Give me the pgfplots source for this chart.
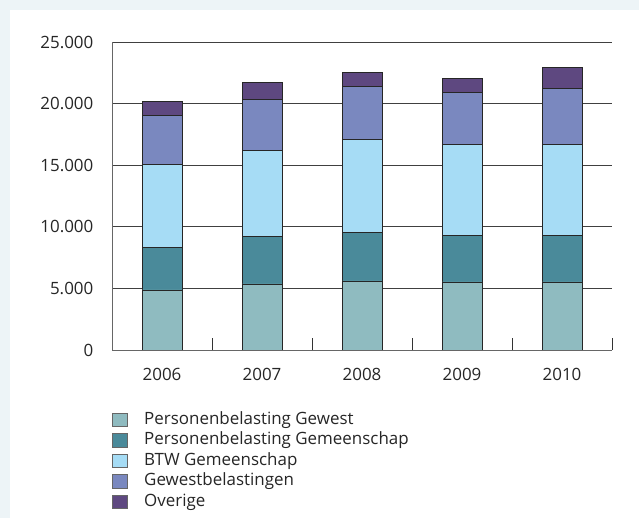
\documentclass[border=0pt]{standalone}
\usepackage{fontspec}
\setmainfont{Open Sans}
\usepackage{pgfplots}
\pgfplotsset{compat=1.18}
\definecolor{bgc}{HTML}{EDF4F7}
\definecolor{c1}{HTML}{8FBBC0}
\definecolor{c2}{HTML}{4A8A9A}
\definecolor{c3}{HTML}{A6DCF5}
\definecolor{c4}{HTML}{7A88BF}
\definecolor{c5}{HTML}{5E4880}
\pgfplotstableread{
x a b c d e
0 4876 3414 6746 3982 1167
1 5364 3820 6989 4146 1381
2 5608 3901 7558 4308 1138
3 5527 3787 7347 4275 1089
4 5527 3787 7347 4551 1707
}\data
\begin{document}
\begin{tikzpicture}[x=1bp,y=1bp]
\fill[bgc] (0,0) rectangle (639,518);
\fill[white] (10,0) rectangle (639,508);
\useasboundingbox (0,0) rectangle (639,518);
\begin{axis}[
  at={(112bp,168bp)}, anchor=south west,
  scale only axis, width=500bp, height=308bp,
  ybar stacked, bar width=40bp,
  xmin=-0.5, xmax=4.5, ymin=0, ymax=25000,
  scaled y ticks=false,
  axis x line*=bottom, axis y line*=left,
  axis line style={black!60, line width=0.9bp},
  xtick={0,1,2,3,4}, xticklabels={2006,2007,2008,2009,2010},
  minor xtick={0.5,1.5,2.5,3.5,4.5},
  major tick length=0pt, minor tick length=12bp,
  tick align=inside, xtick pos=bottom, ytick pos=left,
  minor tick style={black!80, line width=0.9bp},
  ytick={0,5000,10000,15000,20000,25000},
  yticklabels={0,5.000,10.000,15.000,20.000,25.000},
  ymajorgrids, grid style={black!75, line width=0.8bp},
  tick label style={font=\fontsize{17}{20}\selectfont, text=black!85},
  yticklabel style={inner sep=0pt, xshift=-18.5bp},
  xticklabel style={inner sep=0pt, yshift=-18bp},
  every axis plot/.append style={draw=black!85, line width=0.8bp},
  legend style={at={(0,-0.2013)}, anchor=north west, draw=none, fill=none,
    font=\fontsize{17}{20}\selectfont, row sep=4.5bp, column sep=0pt, inner sep=0pt,
    nodes={inner sep=0pt, text=black!85, text height=12bp, text depth=4bp}},
  legend cell align=left,
  legend image code/.code={\draw[#1,draw=black!60,line width=0.8bp] (0.5bp,-6.5bp) rectangle (15bp,7bp); \path[draw=none,fill=none] (0bp,0bp) -- (32bp,0bp);},
]
\addplot[fill=c1] table[x=x,y=a]{\data};
\addplot[fill=c2] table[x=x,y=b]{\data};
\addplot[fill=c3] table[x=x,y=c]{\data};
\addplot[fill=c4] table[x=x,y=d]{\data};
\addplot[fill=c5] table[x=x,y=e]{\data};
\legend{Personenbelasting Gewest, Personenbelasting Gemeenschap, BTW Gemeenschap, Gewestbelastingen, Overige}
\end{axis}
\end{tikzpicture}
\end{document}
